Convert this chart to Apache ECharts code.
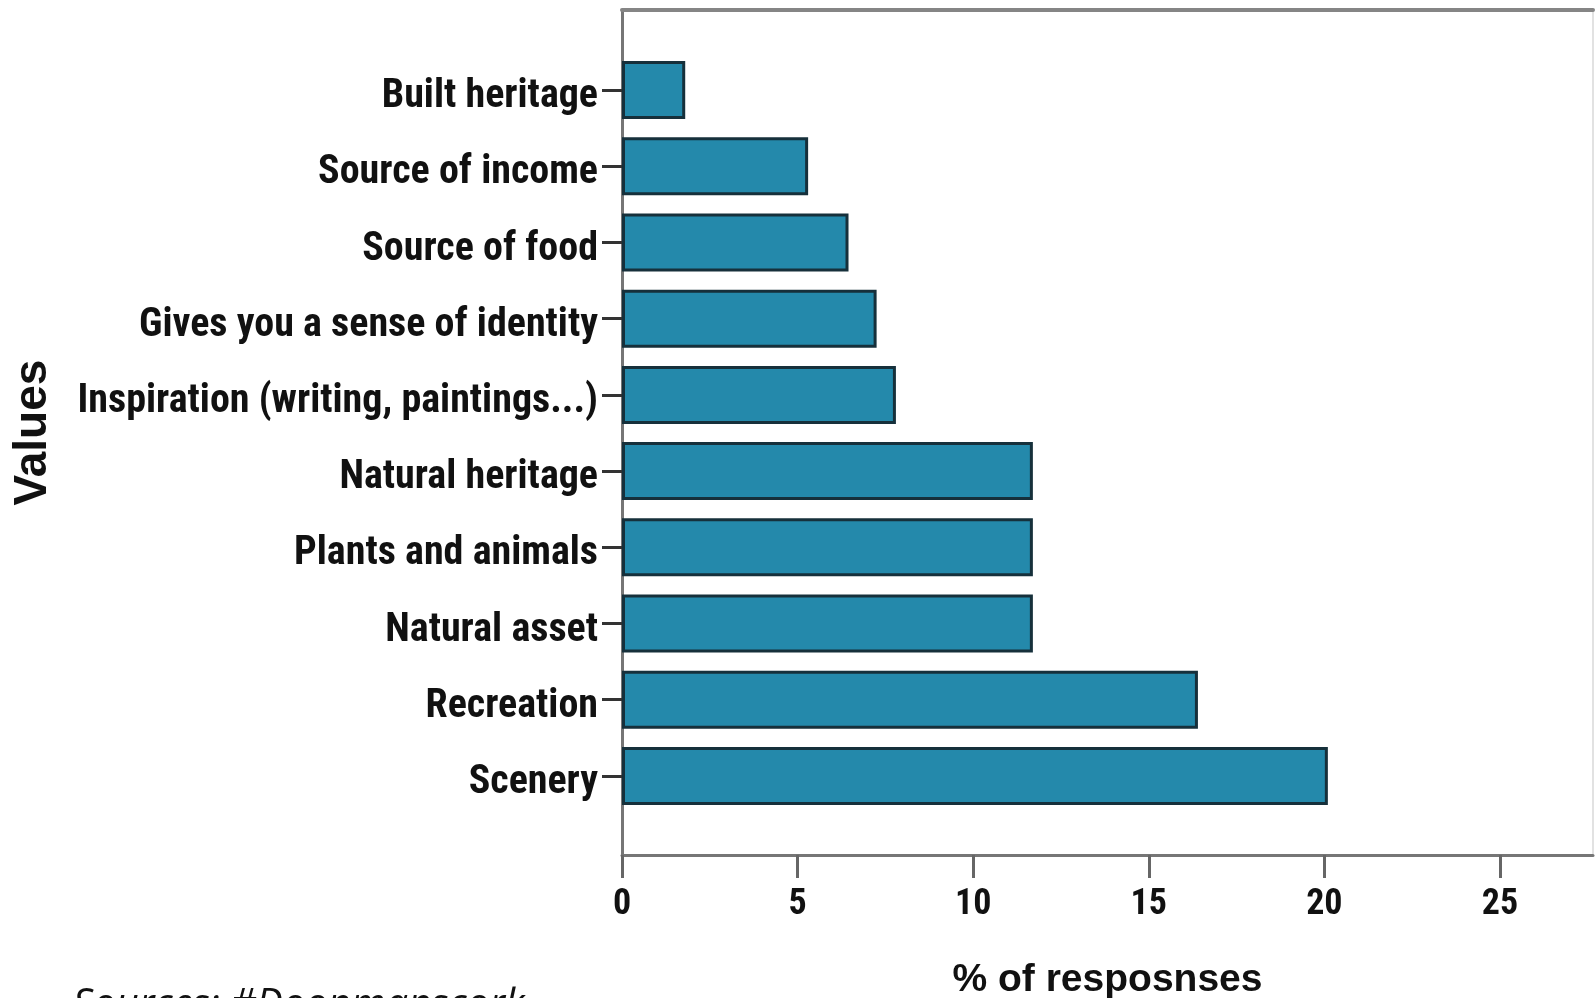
<!DOCTYPE html>
<html>
<head>
<meta charset="utf-8">
<script src="https://cdn.jsdelivr.net/npm/echarts@6/dist/echarts.min.js"></script>
<style>
html,body{margin:0;padding:0;background:#fff;}
#chart{width:1596px;height:998px;}
</style>
</head>
<body>
<div id="chart"></div>
<script>
const categories = ["Built heritage","Source of income","Source of food","Gives you a sense of identity","Inspiration (writing, paintings...)","Natural heritage","Plants and animals","Natural asset","Recreation","Scenery"];
const values = [1.8, 5.3, 6.45, 7.25, 7.8, 11.7, 11.7, 11.7, 16.4, 20.1];
const xTicks = [0, 5, 10, 15, 20, 25];
const xAxisTitle = "% of resposnses";
const yAxisTitle = "Values";
const sourceText = "Sources: #Doonmanscork";

const XMAX = 27.65;
const narrow = '"Liberation Sans Narrow", "Arial Narrow", "Roboto Condensed", "DejaVu Sans Condensed", sans-serif';
const chart = echarts.init(document.getElementById('chart'));
chart.setOption({
  animation: false,
  backgroundColor: '#fff',
  grid: [
    {left: 622, top: 10, width: 971, height: 845, containLabel: false, outerBoundsMode: 'none'},
    {left: 622, top: 52, width: 971, height: 762, containLabel: false, outerBoundsMode: 'none'}
  ],
  xAxis: [
    {gridIndex: 0, type: 'value', position: 'bottom', min: 0, max: XMAX, interval: 5,
     axisLine: {show: true, onZero: false, lineStyle: {color: '#767676', width: 3}},
     axisTick: {show: true, length: 23, lineStyle: {color: '#666', width: 3}},
     axisLabel: {margin: 32, showMaxLabel: false, color: '#111', fontFamily: narrow, fontWeight: 'bold', fontSize: 36,
       formatter: v => xTicks.indexOf(v) >= 0 ? String(v) : ''},
     splitLine: {show: false},
     name: xAxisTitle, nameLocation: 'middle', nameGap: 106,
     nameTextStyle: {color: '#111', fontFamily: '"Liberation Sans", Arial, sans-serif', fontWeight: 'bold', fontSize: 39}},
    {gridIndex: 0, type: 'value', position: 'top', min: 0, max: XMAX,
     axisLine: {show: true, onZero: false, lineStyle: {color: '#858585', width: 4}},
     axisTick: {show: false}, axisLabel: {show: false}, splitLine: {show: false}},
    {gridIndex: 1, type: 'value', min: 0, max: XMAX, show: false, splitLine: {show: false}}
  ],
  yAxis: [
    {gridIndex: 0, type: 'value', min: 0, max: 1, position: 'left',
     axisLine: {show: true, onZero: false, lineStyle: {color: '#767676', width: 3}},
     axisTick: {show: false}, axisLabel: {show: false}, splitLine: {show: false},
     name: yAxisTitle, nameLocation: 'middle', nameGap: 566,
     nameTextStyle: {color: '#111', fontFamily: '"Liberation Sans", Arial, sans-serif', fontWeight: 'bold', fontSize: 46}},
    {gridIndex: 0, type: 'value', min: 0, max: 1, position: 'right',
     axisLine: {show: true, onZero: false, lineStyle: {color: '#e2e2e2', width: 2}},
     axisTick: {show: false}, axisLabel: {show: false}, splitLine: {show: false}},
    {gridIndex: 1, type: 'category', inverse: true, data: categories,
     axisLine: {show: false},
     axisTick: {show: true, alignWithLabel: true, length: 20, lineStyle: {color: '#333', width: 3}},
     axisLabel: {margin: 24, verticalAlign: 'top', lineHeight: 14, color: '#111', fontFamily: narrow, fontWeight: 'bold', fontSize: 40},
     splitLine: {show: false}}
  ],
  series: [{
    type: 'bar', xAxisIndex: 2, yAxisIndex: 2, data: values, barWidth: 58,
    itemStyle: {color: '#2489ab', borderColor: '#16303b', borderWidth: 3}
  }],
  graphic: [{
    type: 'text', left: 73, top: 986,
    style: {text: sourceText, fontFamily: '"Open Sans", sans-serif', fontStyle: 'italic', fontSize: 40, fill: '#111'}
  }]
});
</script>
</body>
</html>
